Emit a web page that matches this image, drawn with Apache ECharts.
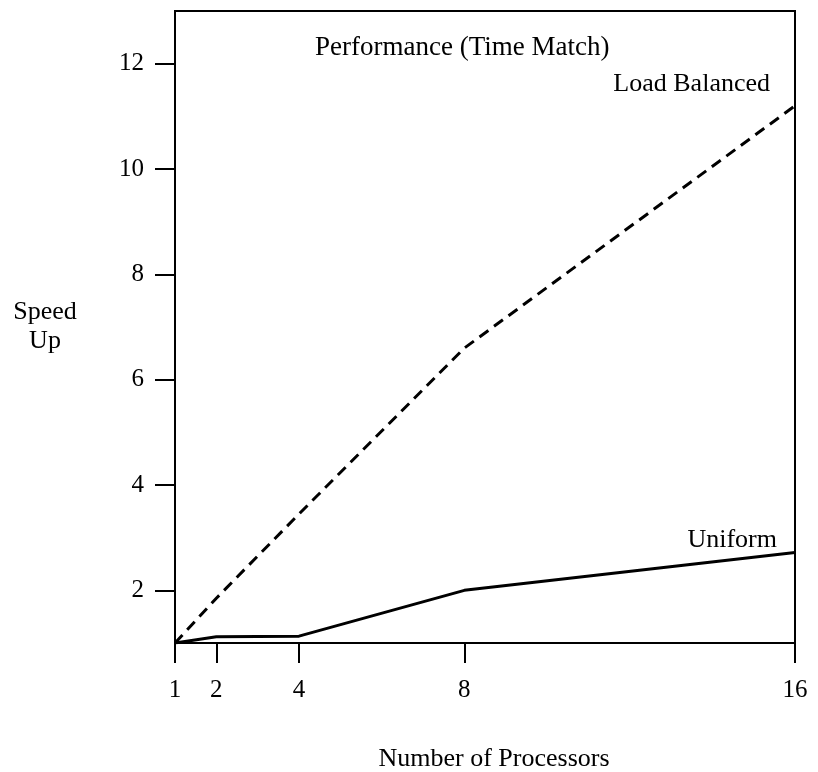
<!DOCTYPE html>
<html>
<head>
<meta charset="utf-8">
<script src="https://cdn.jsdelivr.net/npm/echarts@6/dist/echarts.min.js"></script>
<style>
  html, body { margin: 0; padding: 0; background: #fff; }
  #chart { width: 818px; height: 772px; }
</style>
</head>
<body>
<div id="chart"></div>
<script>
// ---- data ----
const processors = [1, 2, 4, 8, 16];
const loadBalanced = [1, 1.85, 3.45, 6.6, 11.2];
const uniform = [1, 1.12, 1.13, 2.0, 2.72];
const xTicks = [1, 2, 4, 8, 16];
const yTicks = [2, 4, 6, 8, 10, 12];

const FONT = "'Liberation Serif', 'Times New Roman', serif";

function pairs(xs, ys) { return xs.map((x, i) => [x, ys[i]]); }

function endLabel(text, offset) {
  return {
    show: true, formatter: text, distance: 0, offset: offset,
    align: 'right', verticalAlign: 'middle',
    color: '#000', fontFamily: FONT, fontSize: 26
  };
}

const chart = echarts.init(document.getElementById('chart'), null, { renderer: 'canvas' });
chart.setOption({
  animation: false,
  backgroundColor: '#fff',
  title: {
    text: 'Performance (Time Match)',
    left: 310, top: 29,
    textStyle: { fontFamily: FONT, fontSize: 27, fontWeight: 'normal', color: '#000' }
  },
  grid: {
    left: 175, right: 23, top: 11, bottom: 129,
    show: true, borderColor: '#000', borderWidth: 2,
    containLabel: false, outerBoundsMode: 'none'
  },
  xAxis: {
    type: 'value', min: 1, max: 16,
    name: 'Number of Processors', nameLocation: 'middle', nameGap: 103,
    nameTextStyle: { fontFamily: FONT, fontSize: 26, color: '#000', padding: [0, 0, 0, 18] },
    axisLine: { show: true, lineStyle: { color: '#000', width: 2 } },
    axisTick: { show: true, customValues: xTicks, length: 20, inside: false, lineStyle: { color: '#000', width: 2 } },
    axisLabel: { customValues: xTicks, margin: 35, fontFamily: FONT, fontSize: 25, color: '#000' },
    splitLine: { show: false }
  },
  yAxis: {
    type: 'value', min: 1, max: 13,
    name: 'Speed\nUp', nameLocation: 'middle', nameGap: 130, nameRotate: 0,
    nameTextStyle: { fontFamily: FONT, fontSize: 26, color: '#000', align: 'center', lineHeight: 29, padding: [12, 0, 0, 0] },
    axisLine: { show: true, lineStyle: { color: '#000', width: 2 } },
    axisTick: { show: true, customValues: yTicks, length: 20, inside: false, lineStyle: { color: '#000', width: 2 } },
    axisLabel: { customValues: yTicks, margin: 31, fontFamily: FONT, fontSize: 25, color: '#000' },
    splitLine: { show: false }
  },
  series: [
    {
      name: 'Load Balanced', type: 'line',
      data: pairs(processors, loadBalanced),
      symbol: 'none', showSymbol: false,
      lineStyle: { color: '#000', width: 3, type: [11, 7] },
      endLabel: endLabel('Load Balanced', [-25, -22])
    },
    {
      name: 'Uniform', type: 'line',
      data: pairs(processors, uniform),
      symbol: 'none', showSymbol: false,
      lineStyle: { color: '#000', width: 3 },
      endLabel: endLabel('Uniform', [-18, -12])
    }
  ]
});
</script>
</body>
</html>
